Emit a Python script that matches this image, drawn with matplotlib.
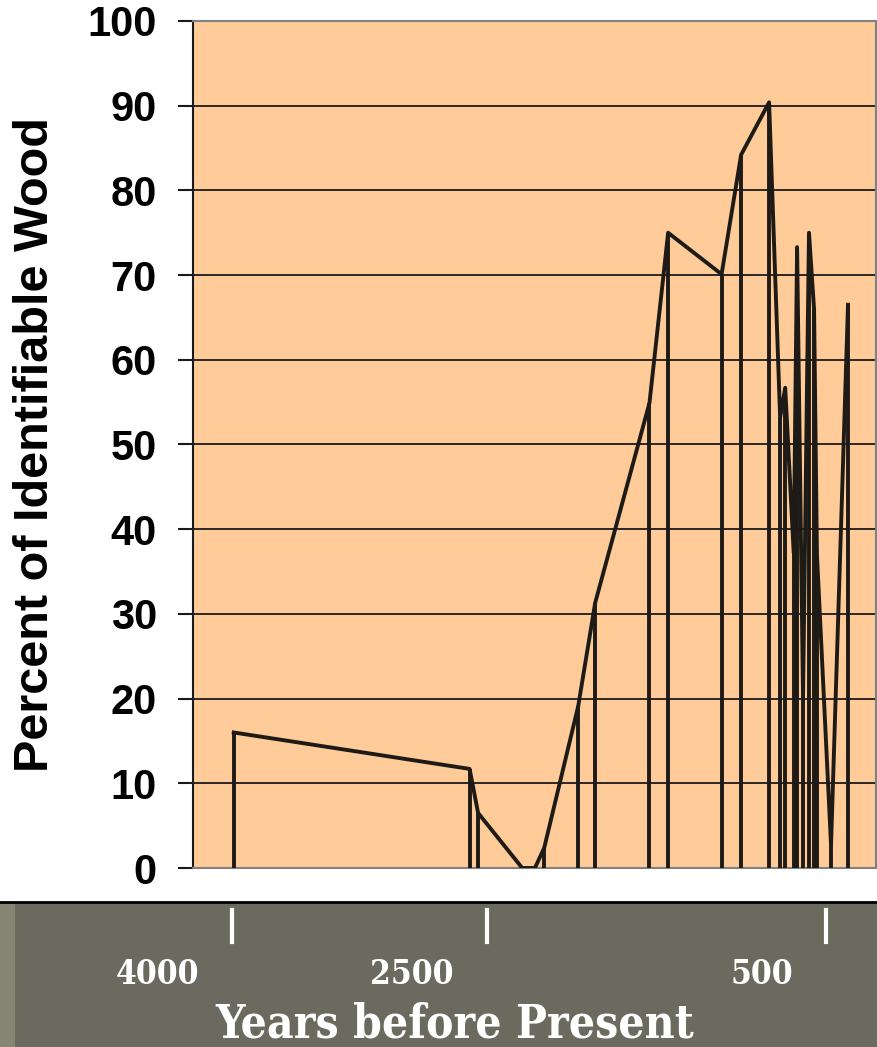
import matplotlib.pyplot as plt
import matplotlib.transforms as mtransforms
from matplotlib.patches import Rectangle
from matplotlib.lines import Line2D

# samples: years before present and percent of identifiable wood
years = [3990, 2600, 2550, 2290, 2215, 2160, 1960, 1860, 1540, 1430, 1115, 1000,
         835, 770, 740, 690, 670, 635, 600, 570, 553, 470, 370]
percent = [16, 11.7, 6.5, 0, 0, 2.4, 19.1, 31.3, 54.9, 75, 70.1, 84.2,
           90.4, 53.2, 56.7, 37.2, 73.3, 20.2, 75, 66, 37, 2.7, 66.5]

band_ticks = [4000, 2500, 500]
band_labels = ['4000', '2500', '500']

line_col = '#1e1a16'

fig = plt.figure(figsize=(8.77, 10.47), dpi=100)
fig.patch.set_facecolor('white')

# dark band at the bottom of the slide
fig.patches.append(Rectangle((0, 0), 1, 0.1375, transform=fig.transFigure,
                             facecolor='#6a6b5e', edgecolor='none', zorder=0))
fig.patches.append(Rectangle((0, 0), 15 / 877, 0.1375, transform=fig.transFigure,
                             facecolor='#858673', edgecolor='none', zorder=0))
fig.lines.append(Line2D([0, 1], [0.1385, 0.1385], transform=fig.transFigure,
                        color='black', lw=2))

ax = fig.add_axes([193 / 877, 179 / 1047, 683 / 877, 847 / 1047])
ax.set_facecolor('#ffcc99')

ax.vlines(years, 0, percent, color=line_col, lw=2.8, zorder=3)
ax.plot(years, percent, color=line_col, lw=2.8, zorder=3)

ax.set_xlim(4230, 205)
ax.set_ylim(0, 100)
ax.set_yticks(range(0, 101, 10))
ax.set_xticks([])
ax.grid(axis='y', color='#1a1a1a', lw=1.3)
ax.set_axisbelow(True)

for lab in ax.get_yticklabels():
    lab.set_fontfamily('Liberation Sans')
    lab.set_fontweight('bold')
    lab.set_fontsize(30)
ax.tick_params(axis='y', length=11, width=1.5, color='#1a1a1a', pad=15)

ax.spines['left'].set_color('#1a1a1a')
ax.spines['left'].set_linewidth(1.5)
for s in ['top', 'bottom', 'right']:
    ax.spines[s].set_color('#808080')
    ax.spines[s].set_linewidth(1.5)

ax.set_ylabel('Percent of Identifiable Wood', family='Liberation Sans',
              fontweight='bold', fontsize=35, va='center')
ax.yaxis.set_label_coords(-0.231, 0.5)

# hand-made year scale in the band
trans = mtransforms.blended_transform_factory(ax.transData, fig.transFigure)
lab_trans = trans + mtransforms.ScaledTranslation(-0.33, 0, fig.dpi_scale_trans)
for yr, lab in zip(band_ticks, band_labels):
    fig.lines.append(Line2D([yr, yr], [1 - 942 / 1047, 1 - 910 / 1047],
                            transform=trans, color='white', lw=3))
    fig.text(yr, 1 - 974 / 1047, lab, transform=lab_trans, ha='right', va='center',
             color='white', family='DejaVu Serif', fontstretch='condensed',
             fontweight='heavy', fontsize=24)

fig.text(455 / 877, 1 - 1025 / 1047, 'Years before Present', ha='center', va='center',
         color='white', family='DejaVu Serif', fontstretch='condensed',
         fontweight='heavy', fontsize=33)

fig.savefig('out.png', dpi=100)
